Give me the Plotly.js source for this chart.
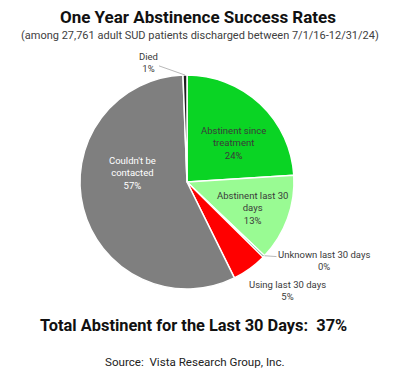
<!DOCTYPE html>
<html><head><meta charset="utf-8">
<script src="https://cdn.plot.ly/plotly-3.0.1.min.js"></script>
<style>html,body{margin:0;padding:0;background:#fff}#chart{width:400px;height:373px}</style>
</head><body><div id="chart"></div>
<script>
const labels = ["Abstinent since<br>treatment", "Abstinent last 30<br>days", "Unknown last 30 days", "Using last 30 days", "Couldn't be<br>contacted", "Died"];
const values = [24.0, 13.1, 0.3, 5.3, 56.7, 0.6];
const colors = ["#0AD424", "#99FB93", "#0B6B2C", "#FF0000", "#7F7F7F", "#1E1E1E"];
const textColors = ["#3A3A3A", "#3A3A3A", "#3A3A3A", "#3A3A3A", "#FFFFFF", "#3A3A3A"];
const titleText = "One Year Abstinence Success Rates";
const subtitleText = "(among 27,761 adult SUD patients discharged between 7/1/16-12/31/24)";
const totalText = "Total Abstinent for the Last 30 Days:  37%";
const sourceText = "Source:  Vista Research Group, Inc.";

const W = 400, H = 373;
const cx = 187, cy = 182, R = 107;
const FONT = "Roboto, 'Open Sans', sans-serif";

const total = values.reduce((a, b) => a + b, 0);
const pct = values.map(v => Math.round(v / total * 100) + "%");

// label placement (pixel centres of the text) per slice; arrow = leader line to slice edge
const place = [
  {tx: 233, ty: 143},
  {tx: 253, ty: 208},
  {tx: 324, ty: 260, arrow: true, frac: 0.0},
  {tx: 287, ty: 290},
  {tx: 132, ty: 173},
  {tx: 148, ty: 62, arrow: true, frac: 0.5}
];
let cum = 0;
const annotations = [];
values.forEach((v, i) => {
  const start = cum / total;
  cum += v;
  const o = place[i];
  const outsideLabel = !o.arrow && i !== 3 ? false : true;
  const txt = (outsideLabel ? labels[i].replace(/<br>/g, " ") : labels[i]) + "<br>" + pct[i];
  const font = {family: FONT, size: 9.5, color: textColors[i]};
  if (o.arrow) {
    const f = start + (v / total) * o.frac;
    const ang = f * 2 * Math.PI;
    const px = cx + R * Math.sin(ang), py = cy - R * Math.cos(ang);
    annotations.push({x: px / W, y: 1 - py / H, xref: "paper", yref: "paper", text: txt,
      showarrow: true, arrowhead: 0, arrowwidth: 0.8, arrowcolor: "#A6A6A6",
      ax: o.tx - px, ay: o.ty - py, standoff: 0, font: font, align: "center"});
  } else {
    annotations.push({x: o.tx / W, y: 1 - o.ty / H, xref: "paper", yref: "paper", text: txt,
      showarrow: false, xanchor: "center", yanchor: "middle", font: font, align: "center"});
  }
});
annotations.push({x: 0.5, y: 1 - 36 / H, xref: "paper", yref: "paper", text: subtitleText, showarrow: false,
  xanchor: "center", yanchor: "middle", font: {family: FONT, size: 11, color: "#404040"}});
annotations.push({x: 0.4825, y: 1 - 325 / H, xref: "paper", yref: "paper", text: "<b>" + totalText + "</b>", showarrow: false,
  xanchor: "center", yanchor: "middle", font: {family: FONT, size: 16.4, color: "#111111"}});
annotations.push({x: 0.4875, y: 1 - 362 / H, xref: "paper", yref: "paper", text: sourceText, showarrow: false,
  xanchor: "center", yanchor: "middle", font: {family: FONT, size: 11.6, color: "#222222"}});

const trace = {
  type: "pie",
  labels: labels,
  values: values,
  sort: false,
  direction: "clockwise",
  rotation: 0,
  marker: {colors: colors, line: {color: "#FFFFFF", width: 1.5}},
  textinfo: "none",
  hoverinfo: "label+percent",
  showlegend: false,
  domain: {x: [(cx - R) / W, (cx + R) / W], y: [1 - (cy + R) / H, 1 - (cy - R) / H]}
};

const layout = {
  width: W, height: H,
  margin: {l: 0, r: 0, t: 0, b: 0},
  paper_bgcolor: "#FFFFFF",
  title: {text: "<b>" + titleText + "</b>", x: 0.495, xanchor: "center", y: 1 - 17 / H, yanchor: "middle", yref: "container",
    font: {family: FONT, size: 17, color: "#111111"}},
  annotations: annotations,
  showlegend: false
};
Plotly.newPlot("chart", [trace], layout, {displayModeBar: false, staticPlot: true});
</script></body></html>
